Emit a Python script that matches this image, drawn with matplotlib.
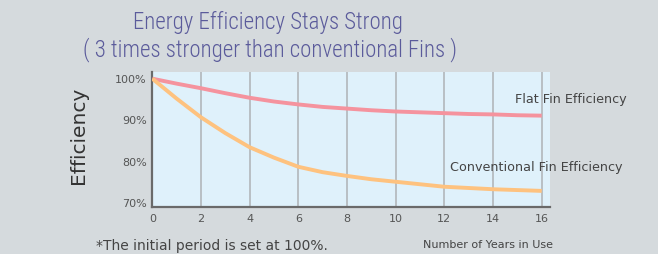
import matplotlib
matplotlib.use("Agg")
import matplotlib.pyplot as plt
from matplotlib import font_manager
from matplotlib.font_manager import FontProperties

years = [0, 1, 2, 3, 4, 5, 6, 7, 8, 9, 10, 11, 12, 13, 14, 15, 16]
flat_fin = [100, 98.8, 97.7, 96.5, 95.4, 94.5, 93.8, 93.2, 92.8, 92.4, 92.1, 91.9, 91.7, 91.5, 91.4, 91.2, 91.1]
conv_fin = [100, 95.2, 90.7, 86.9, 83.5, 81.0, 78.8, 77.5, 76.6, 75.8, 75.2, 74.6, 74.0, 73.7, 73.4, 73.2, 73.0]
x_ticks = [0, 2, 4, 6, 8, 10, 12, 14, 16]
y_ticks = [70, 80, 90, 100]
y_tick_labels = ["70%", "80%", "90%", "100%"]
title_lines = ["Energy Efficiency Stays Strong", "( 3 times stronger than conventional Fins )"]

fl = font_manager.fontManager.ttflist


def wnum(w):
    m = {"light": 300, "normal": 400, "regular": 400, "book": 400, "medium": 500}
    if isinstance(w, (int, float)):
        return w
    return m.get(str(w).lower(), 700)


def pick_condensed():
    def upright(f):
        return f.style == "normal" and "italic" not in f.fname.lower()
    for nm in ("Roboto Condensed", "Liberation Sans Narrow"):
        cands = [f for f in fl if f.name == nm and upright(f)]
        for target in (300, 400):
            for f in cands:
                if wnum(f.weight) == target:
                    return FontProperties(fname=f.fname)
        if cands:
            return FontProperties(fname=cands[0].fname)
    for nm in ("DejaVu Sans", "Noto Sans", "Open Sans"):
        for f in fl:
            if f.name == nm and "condensed" in str(f.stretch) and upright(f) and wnum(f.weight) <= 400:
                return FontProperties(fname=f.fname)
    return None


title_fp = pick_condensed()

W, H = 658, 254
fig = plt.figure(figsize=(W / 100, H / 100), dpi=100)
fig.patch.set_facecolor("#d5dadd")

ax = fig.add_axes([152.3 / W, 1 - 206.7 / H, (550 - 152.3) / W, (206.7 - 72) / H])
ax.set_facecolor("#dff1fb")
ax.set_xlim(0, 16.34)
ax.set_ylim(69.2, 101.6)

for xv in x_ticks[1:]:
    ax.axvline(xv, color="#b6bbc0", lw=1.3, zorder=1)

ax.plot(years, flat_fin, color="#f5939e", lw=2.8, solid_capstyle="butt", zorder=3)
ax.plot(years, conv_fin, color="#fec27f", lw=2.8, solid_capstyle="butt", zorder=3)

ax.set_xticks(x_ticks)
ax.set_yticks(y_ticks)
ax.set_yticklabels(y_tick_labels)
ax.tick_params(axis="both", length=0, labelsize=8, labelcolor="#555555")
ax.tick_params(axis="x", pad=5)
ax.tick_params(axis="y", pad=4)
for side in ["top", "right"]:
    ax.spines[side].set_visible(False)
for side in ["left", "bottom"]:
    ax.spines[side].set_color("#6a6a6a")
    ax.spines[side].set_linewidth(1.6)


def fx(x):
    return x / W


def fy(y):
    return 1 - y / H


fig.text(fx(627), fy(99.5), "Flat Fin Efficiency", fontsize=9.2, color="#444444", ha="right", va="center")
fig.text(fx(623), fy(167), "Conventional Fin Efficiency", fontsize=9.2, color="#444444", ha="right", va="center")

if title_fp is not None:
    title_fp.set_size(16.5)
    t_kw = dict(fontproperties=title_fp)
else:
    t_kw = dict(fontsize=13)
fig.text(fx(268), fy(29.3), title_lines[0], color="#5b5b9b", ha="center", va="baseline", **t_kw)
fig.text(fx(270), fy(56.7), title_lines[1], color="#5b5b9b", ha="center", va="baseline", **t_kw)

fig.text(fx(79), fy(135.5), "Efficiency", fontsize=14.5, color="#333333", rotation=90,
         ha="center", va="center")
fig.text(fx(96), fy(246), "*The initial period is set at 100%.", fontsize=10, color="#444444",
         ha="left", va="center")
fig.text(fx(553), fy(245), "Number of Years in Use", fontsize=8, color="#444444",
         ha="right", va="center")

fig.savefig("out.png", dpi=100, facecolor=fig.get_facecolor())
